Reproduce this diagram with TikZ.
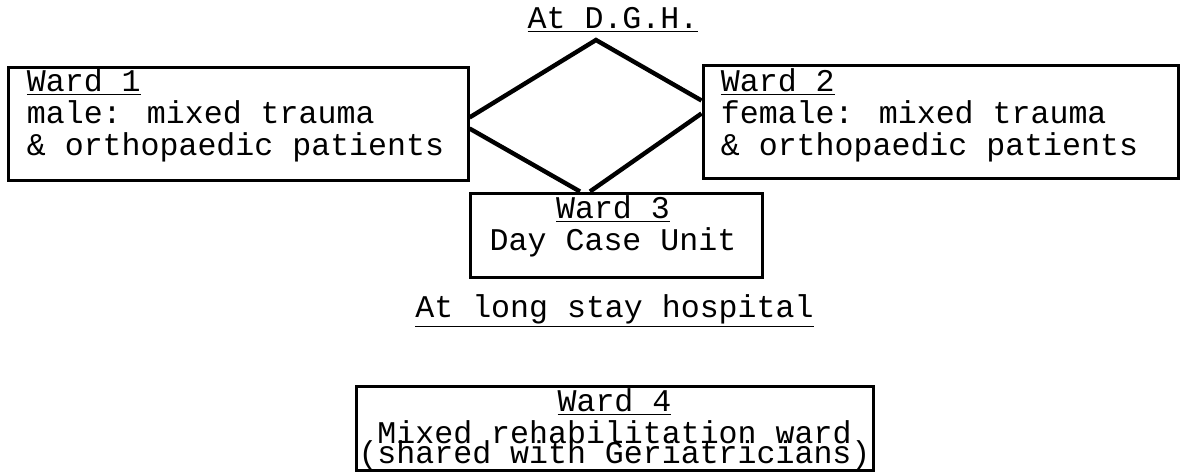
\documentclass[tikz,border=0pt]{standalone}
\usepackage{fontspec}
\newfontfamily\typewriter{Liberation Mono}
\usetikzlibrary{positioning, calc}

\begin{document}
\begin{tikzpicture}[x=0.5pt, y=-0.5pt,
    wardbox/.style={draw, line width=1.5pt, inner sep=0pt},
    wardtext/.style={font=\typewriter\fontsize{15.8}{16}\selectfont, inner sep=0pt},
    link/.style={line width=2.2pt, line join=miter}]
    \useasboundingbox (0,0) rectangle (1185,472);

    % ward boxes: name/centre x/centre y/width/height (in px)
    \foreach \name/\cx/\cy/\w/\h in {
        w1/238/123.5/460/113,
        w2/940.5/121.5/475/113,
        w3/616/235/292/84,
        w4/614.5/428/517/84}
    {
        \node[wardbox, minimum width=\w*0.5pt, minimum height=\h*0.5pt] (\name) at (\cx,\cy) {};
    }

    % headings
    \node[wardtext, anchor=base] (dgh) at (613,28) {\underline{At D.G.H.}};
    \node[wardtext, anchor=base] (longstay) at (614.5,317) {\underline{At long stay hospital}};

    % ward texts (base = baseline of the last line)
    \node[wardtext, anchor=base west, align=left] (t1) at ($(w1.north west)+(20,90)$)
        {\underline{Ward 1}\\male: mixed trauma\\\& orthopaedic patients};
    \node[wardtext, anchor=base west, align=left] (t2) at ($(w2.north west)+(19,92)$)
        {\underline{Ward 2}\\female: mixed trauma\\\& orthopaedic patients};
    \node[wardtext, anchor=base, align=center] (t3) at ($(w3.north)+(-3,59)$)
        {\underline{Ward 3}\\Day Case Unit};
    \node[wardtext, anchor=base, align=center] (t4) at ($(w4.north)+(0,79)$)
        {\underline{Ward 4}\\Mixed rehabilitation ward\\[-6pt](shared with Geriatricians)};

    % links between the wards
    \coordinate (apex) at (596,40);
    \draw[link] ($(w1.east)+(0,-6)$) -- (apex) -- ($(w2.west)+(0,-21)$);
    \draw[link] ($(w1.east)+(0,5)$) -- ($(w3.north)+(-36,0)$);
    \draw[link] ($(w3.north)+(-26,0)$) -- ($(w2.west)+(0,-8)$);
\end{tikzpicture}
\end{document}
